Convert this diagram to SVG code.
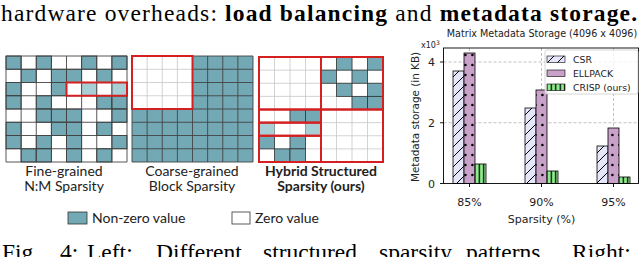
<svg xmlns="http://www.w3.org/2000/svg" width="640" height="257" viewBox="0 0 640 257">
<style>
.serif{font-family:"Liberation Serif","Times New Roman",serif;fill:#000}
.cap{font-family:Lato,"Noto Sans",sans-serif;font-size:14px;fill:#222;text-anchor:middle}
.leg{font-family:Lato,"Noto Sans",sans-serif;font-size:14px;fill:#222}
.t{fill:#72a9b5;stroke:#333;stroke-width:0.8}
.l{fill:#a9cfd6;stroke:#777;stroke-width:0.6}
.dk{stroke:#444;stroke-width:0.9;fill:none}
.lg{stroke:#c8c8c8;stroke-width:0.8;fill:none}
.red{fill:none;stroke:#d42020;stroke-width:2}
.mpl{font-family:"DejaVu Sans",Verdana,sans-serif;fill:#222}
.grid{stroke:#b0b0b0;stroke-width:0.8;stroke-dasharray:3,2;fill:none}
.bar{stroke:#000;stroke-width:0.8}
</style>
<defs>
<pattern id="pCSR" patternUnits="userSpaceOnUse" width="10" height="10">
<rect width="10" height="10" fill="#e6e6fa"/>
<path d="M-2,2 L2,-2 M0,10 L10,0 M8,12 L12,8" stroke="#000" stroke-width="1"/>
</pattern>
<pattern id="pELL" patternUnits="userSpaceOnUse" width="7" height="10">
<rect width="7" height="10" fill="#c8a2c8"/>
<circle cx="3.4" cy="5" r="1.3" fill="#000"/>
</pattern>
<pattern id="pCRISP" patternUnits="userSpaceOnUse" width="4.5" height="10">
<rect width="4.5" height="10" fill="#90ee90"/>
<line x1="2.25" y1="0" x2="2.25" y2="10" stroke="#000" stroke-width="1.3"/>
</pattern>
</defs>
<rect width="640" height="257" fill="#fff"/>

<text class="serif" x="1" y="21" font-size="23.5" textLength="636" lengthAdjust="spacing">hardware overheads: <tspan font-weight="bold">load balancing</tspan> and <tspan font-weight="bold">metadata storage.</tspan></text>

<g id="grid-fine">
<rect x="6" y="56" width="121" height="106" fill="#fff"/>
<g>
<rect class="t" x="6" y="56" width="15.125" height="13.25"/>
<rect class="t" x="36.25" y="56" width="15.125" height="13.25"/>
<rect class="t" x="81.625" y="56" width="15.125" height="13.25"/>
<rect class="t" x="111.875" y="56" width="15.125" height="13.25"/>
<rect class="t" x="21.125" y="69.25" width="15.125" height="13.25"/>
<rect class="t" x="51.375" y="69.25" width="15.125" height="13.25"/>
<rect class="t" x="66.5" y="69.25" width="15.125" height="13.25"/>
<rect class="t" x="96.75" y="69.25" width="15.125" height="13.25"/>
<rect class="t" x="6" y="82.5" width="15.125" height="13.25"/>
<rect class="t" x="51.375" y="82.5" width="15.125" height="13.25"/>
<rect class="l" x="81.625" y="82.5" width="15.125" height="13.25"/>
<rect class="l" x="111.875" y="82.5" width="15.125" height="13.25"/>
<rect class="t" x="6" y="95.75" width="15.125" height="13.25"/>
<rect class="t" x="36.25" y="95.75" width="15.125" height="13.25"/>
<rect class="t" x="96.75" y="95.75" width="15.125" height="13.25"/>
<rect class="t" x="111.875" y="95.75" width="15.125" height="13.25"/>
<rect class="t" x="36.25" y="109" width="15.125" height="13.25"/>
<rect class="t" x="51.375" y="109" width="15.125" height="13.25"/>
<rect class="t" x="66.5" y="109" width="15.125" height="13.25"/>
<rect class="t" x="111.875" y="109" width="15.125" height="13.25"/>
<rect class="t" x="6" y="122.25" width="15.125" height="13.25"/>
<rect class="t" x="51.375" y="122.25" width="15.125" height="13.25"/>
<rect class="t" x="66.5" y="122.25" width="15.125" height="13.25"/>
<rect class="t" x="96.75" y="122.25" width="15.125" height="13.25"/>
<rect class="t" x="6" y="135.5" width="15.125" height="13.25"/>
<rect class="t" x="36.25" y="135.5" width="15.125" height="13.25"/>
<rect class="t" x="66.5" y="135.5" width="15.125" height="13.25"/>
<rect class="t" x="111.875" y="135.5" width="15.125" height="13.25"/>
<rect class="t" x="21.125" y="148.75" width="15.125" height="13.25"/>
<rect class="t" x="36.25" y="148.75" width="15.125" height="13.25"/>
<rect class="t" x="66.5" y="148.75" width="15.125" height="13.25"/>
<rect class="t" x="96.75" y="148.75" width="15.125" height="13.25"/>
</g>
<path class="dk" d="M6,56V162M21.125,56V162M36.25,56V162M51.375,56V162M66.5,56V162M81.625,56V162M96.75,56V162M111.875,56V162M127,56V162M6,56H127M6,69.25H127M6,82.5H127M6,95.75H127M6,109H127M6,122.25H127M6,135.5H127M6,148.75H127M6,162H127"/>
<rect class="red" x="66.5" y="82.5" width="60.5" height="13.25"/>
<text class="cap" x="64" y="176">Fine-grained</text>
<text class="cap" x="64" y="191">N:M Sparsity</text>
</g>

<g id="grid-coarse">
<rect x="132" y="56" width="121" height="106" fill="#72a9b5"/>
<path class="dk" d="M132,56V162M147.125,56V162M162.25,56V162M177.375,56V162M192.5,56V162M207.625,56V162M222.75,56V162M237.875,56V162M253,56V162M132,56H253M132,69.25H253M132,82.5H253M132,95.75H253M132,109H253M132,122.25H253M132,135.5H253M132,148.75H253M132,162H253"/>
<rect x="132" y="56" width="60.5" height="53" fill="#fff"/>
<path class="lg" d="M147.125,56V109M162.25,56V109M177.375,56V109M132,69.25H192.5M132,82.5H192.5M132,95.75H192.5"/>
<rect class="red" x="132" y="56" width="60.5" height="53"/>
<text class="cap" x="192" y="176">Coarse-grained</text>
<text class="cap" x="192" y="191">Block Sparsity</text>
</g>

<g id="grid-hybrid">
<rect x="259" y="57" width="124" height="105" fill="#fff"/>
<path class="lg" d="M274.5,57V162M290,57V162M305.5,57V162M336.5,57V162M352,57V162M367.5,57V162M259,70.125H383M259,83.25H383M259,96.375H383M259,148.875H383M321,122.625H383M321,135.75H383"/>
<rect class="t" x="336.5" y="57" width="15.5" height="13.125"/>
<rect class="t" x="367.5" y="57" width="15.5" height="13.125"/>
<rect class="t" x="321" y="70.125" width="15.5" height="13.125"/>
<rect class="t" x="352" y="70.125" width="15.5" height="13.125"/>
<rect class="t" x="336.5" y="83.25" width="15.5" height="13.125"/>
<rect class="t" x="367.5" y="83.25" width="15.5" height="13.125"/>
<rect class="t" x="352" y="96.375" width="15.5" height="13.125"/>
<rect class="t" x="367.5" y="96.375" width="15.5" height="13.125"/>
<rect class="t" x="290" y="109.5" width="15.5" height="13.125"/>
<rect class="t" x="305.5" y="109.5" width="15.5" height="13.125"/>
<rect class="l" x="259" y="122.625" width="15.5" height="13.125"/>
<rect class="l" x="305.5" y="122.625" width="15.5" height="13.125"/>
<rect class="t" x="259" y="135.75" width="15.5" height="13.125"/>
<rect class="t" x="290" y="135.75" width="15.5" height="13.125"/>
<rect class="t" x="274.5" y="148.875" width="15.5" height="13.125"/>
<rect class="t" x="290" y="148.875" width="15.5" height="13.125"/>
<rect class="red" x="259" y="57" width="62" height="52.5"/>
<rect class="red" x="321" y="57" width="62" height="52.5"/>
<rect class="red" x="259" y="109.5" width="62" height="13.125"/>
<rect class="red" x="259" y="122.625" width="62" height="13.125"/>
<rect class="red" x="259" y="135.75" width="62" height="26.25"/>
<rect class="red" x="321" y="109.5" width="62" height="52.5"/>
<text class="cap" x="321" y="176" font-weight="bold">Hybrid Structured</text>
<text class="cap" x="321" y="191" font-weight="bold">Sparsity (ours)</text>
</g>

<g id="legend-left">
<rect x="68" y="212" width="19" height="12" fill="#72a9b5" stroke="#333" stroke-width="0.8"/>
<text class="leg" x="92" y="223">Non-zero value</text>
<rect x="232" y="212" width="18" height="12" fill="#fff" stroke="#333" stroke-width="0.8"/>
<text class="leg" x="255" y="223">Zero value</text>
</g>

<g id="chart">
<text class="mpl" x="542" y="37" font-size="9.6" text-anchor="middle">Matrix Metadata Storage (4096 x 4096)</text>
<path class="grid" d="M443.5,62H638.5M443.5,122.75H638.5M469.5,48V183.5M541.5,48V183.5M613.5,48V183.5"/>
<g id="bars">
<rect class="bar" x="453" y="71" width="11" height="112.5" fill="url(#pCSR)"/>
<rect class="bar" x="464" y="53" width="11" height="130.5" fill="url(#pELL)"/>
<rect class="bar" x="475" y="164" width="11" height="19.5" fill="url(#pCRISP)"/>
<rect class="bar" x="525" y="108" width="11" height="75.5" fill="url(#pCSR)"/>
<rect class="bar" x="536" y="90" width="11" height="93.5" fill="url(#pELL)"/>
<rect class="bar" x="547" y="171" width="11" height="12.5" fill="url(#pCRISP)"/>
<rect class="bar" x="597" y="146" width="11" height="37.5" fill="url(#pCSR)"/>
<rect class="bar" x="608" y="128" width="11" height="55.5" fill="url(#pELL)"/>
<rect class="bar" x="619" y="177" width="11" height="6.5" fill="url(#pCRISP)"/>
</g>
<rect x="443.5" y="48" width="195" height="135.5" fill="none" stroke="#000" stroke-width="0.9"/>
<path d="M440,62H443.5M440,122.75H443.5M440,183.5H443.5M469.5,183.5V187M541.5,183.5V187M613.5,183.5V187" stroke="#000" stroke-width="0.9"/>
<g class="mpl" font-size="11" text-anchor="end">
<text x="435" y="66">4</text>
<text x="435" y="126.5">2</text>
<text x="435" y="187.5">0</text>
</g>
<text class="mpl" x="421" y="48" font-size="8">x10<tspan font-size="6" dy="-3">3</tspan></text>
<text class="mpl" font-size="10.4" text-anchor="middle" transform="translate(419,117) rotate(-90)">Metadata storage (in KB)</text>
<g class="mpl" font-size="11" text-anchor="middle">
<text x="469.5" y="206">85%</text>
<text x="541.5" y="206">90%</text>
<text x="613.5" y="206">95%</text>
<text x="541.5" y="223">Sparsity (%)</text>
</g>
<g id="chart-legend">
<rect x="545" y="50" width="93" height="44" rx="2" fill="#fff" fill-opacity="0.8" stroke="#ccc" stroke-width="0.8"/>
<rect x="547" y="56" width="18" height="6.5" fill="url(#pCSR)" stroke="#000" stroke-width="0.6"/>
<rect x="547" y="70" width="18" height="6.5" fill="#c8a2c8" stroke="#000" stroke-width="0.6"/>
<rect x="547" y="84" width="18" height="6.5" fill="url(#pCRISP)" stroke="#000" stroke-width="0.6"/>
<g class="mpl" font-size="9.3">
<text x="573" y="62.5">CSR</text>
<text x="573" y="76.5">ELLPACK</text>
<text x="573" y="90.5">CRISP (ours)</text>
</g>
</g>
</g>

<g id="caption" class="serif" font-size="23.5">
<text x="2" y="260">Fig.</text>
<text x="60" y="260">4:</text>
<text x="87" y="260">Left:</text>
<text x="156" y="260">Different</text>
<text x="263" y="260">structured</text>
<text x="379" y="260">sparsity</text>
<text x="466" y="260">patterns.</text>
<text x="572" y="260">Right:</text>
</g>
</svg>
